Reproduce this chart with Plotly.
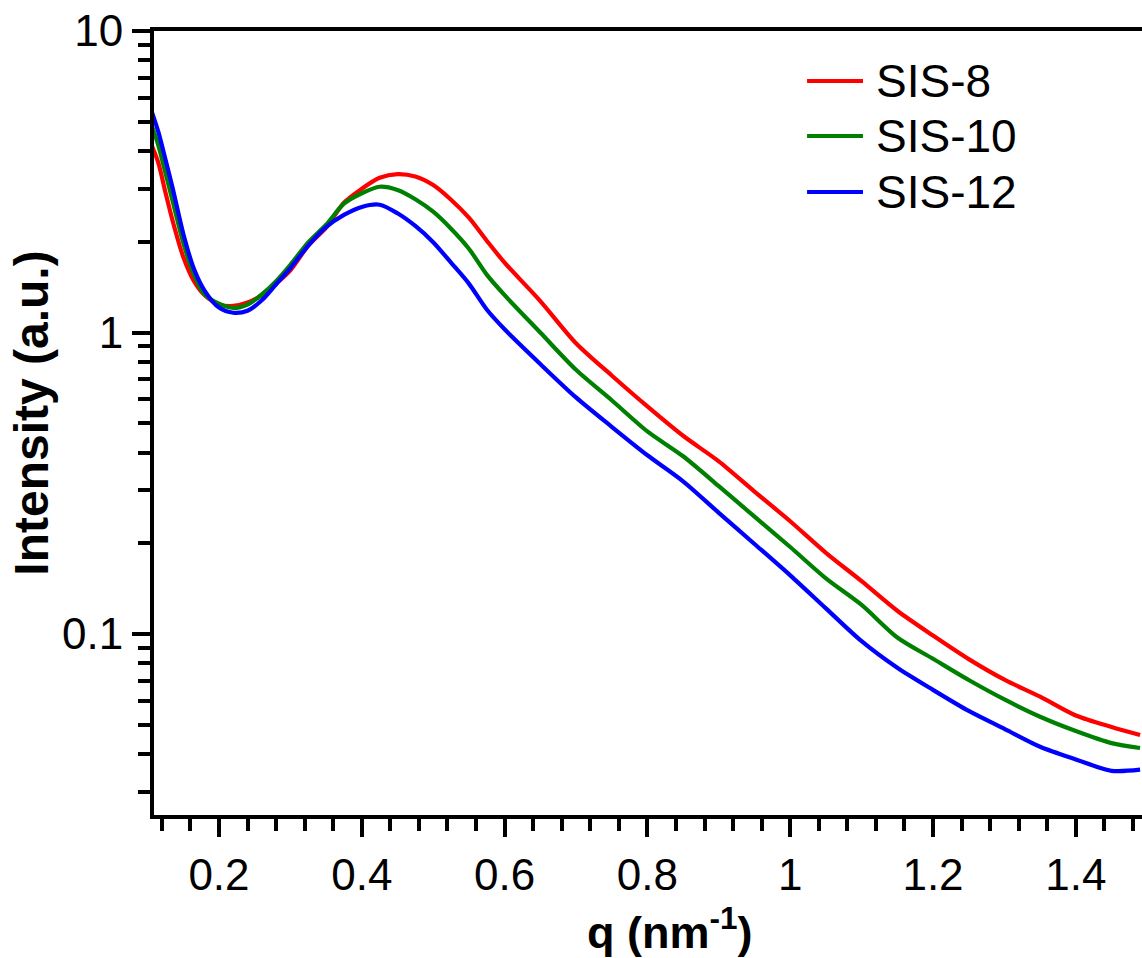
import plotly.graph_objects as go

# ---- data (q in nm^-1, intensity in a.u.) ----
q = [0.106, 0.115, 0.125, 0.135, 0.15, 0.165, 0.18, 0.2, 0.22, 0.24, 0.26, 0.28,
     0.30, 0.325, 0.35, 0.375, 0.40, 0.425, 0.45, 0.475, 0.50, 0.525, 0.55, 0.575,
     0.60, 0.65, 0.70, 0.75, 0.80, 0.85, 0.90, 0.95, 1.00, 1.05, 1.10, 1.15, 1.20,
     1.25, 1.30, 1.35, 1.40, 1.45, 1.49]

sis8 = [4.16, 3.66, 2.92, 2.35, 1.78, 1.48, 1.33, 1.24, 1.225, 1.257, 1.33, 1.453,
        1.609, 1.941, 2.227, 2.695, 2.998, 3.26, 3.354, 3.292, 3.084, 2.757, 2.403, 2.016,
        1.705, 1.272, 0.9217, 0.7205, 0.5689, 0.4546, 0.3739, 0.2968, 0.2367, 0.186, 0.1498, 0.1195, 0.0989,
        0.0826, 0.0706, 0.062, 0.0537, 0.0492, 0.0463]

sis10 = [4.846, 4.183, 3.387, 2.736, 1.986, 1.556, 1.336, 1.247, 1.207, 1.239, 1.337, 1.48,
         1.677, 1.991, 2.278, 2.674, 2.897, 3.044, 2.97, 2.768, 2.516, 2.21, 1.897, 1.556,
         1.33, 1.0, 0.7525, 0.5964, 0.4701, 0.3888, 0.3095, 0.2451, 0.1944, 0.153, 0.1249, 0.0974, 0.0828,
         0.0704, 0.0607, 0.0532, 0.0477, 0.0435, 0.0419]

sis12 = [5.393, 4.636, 3.754, 3.021, 2.127, 1.624, 1.375, 1.21, 1.163, 1.181, 1.279, 1.446,
         1.635, 1.943, 2.237, 2.455, 2.61, 2.654, 2.486, 2.256, 1.993, 1.705, 1.453, 1.192,
         1.025, 0.7863, 0.6093, 0.4869, 0.3917, 0.3211, 0.2524, 0.199, 0.1566, 0.1217, 0.0947, 0.0773, 0.0653,
         0.0556, 0.0485, 0.0423, 0.0384, 0.0352, 0.0355]

series_names = ["SIS-8", "SIS-10", "SIS-12"]
series_values = [sis8, sis10, sis12]
series_colors = ["#FF0000", "#008000", "#0000FF"]

x_tickvals = [0.2, 0.4, 0.6, 0.8, 1.0, 1.2, 1.4]
x_ticktext = ["0.2", "0.4", "0.6", "0.8", "1", "1.2", "1.4"]
y_tickvals = [0.1, 1, 10]
y_ticktext = ["0.1", "1", "10"]
y_minor = [0.03, 0.04, 0.05, 0.06, 0.07, 0.08, 0.09,
           0.2, 0.3, 0.4, 0.5, 0.6, 0.7, 0.8, 0.9,
           2, 3, 4, 5, 6, 7, 8, 9]

FONT = "Liberation Sans, Arial, Helvetica, sans-serif"

fig = go.Figure()
for name, vals, col in zip(series_names, series_values, series_colors):
    fig.add_trace(go.Scatter(x=q, y=vals, mode="lines", name=name,
                             line=dict(color=col, width=4.2, shape="spline", smoothing=0.8),
                             showlegend=False))

# manual legend (long line samples like the reference)
legend_y = [0.9362, 0.8661, 0.7946]
for name, col, ly in zip(series_names, series_colors, legend_y):
    fig.add_shape(type="line", xref="paper", yref="paper",
                  x0=0.661, x1=0.7176, y0=ly, y1=ly,
                  line=dict(color=col, width=4))
    fig.add_annotation(xref="paper", yref="paper", x=0.7288, y=ly,
                       xanchor="left", yanchor="middle", showarrow=False,
                       text=name, font=dict(family=FONT, size=46, color="black"))

# axis titles
fig.add_annotation(xref="paper", yref="paper", x=0.5218, y=-0.1455,
                   xanchor="center", yanchor="middle", showarrow=False,
                   text="<b>q (nm<sup>-1</sup>)</b>",
                   font=dict(family=FONT, size=45, color="black"))
fig.add_annotation(xref="paper", yref="paper", x=-0.1234, y=0.512,
                   xanchor="center", yanchor="middle", showarrow=False, textangle=-90,
                   text="<b>Intensity (a.u.)</b>",
                   font=dict(family=FONT, size=48, color="black"))

fig.update_layout(
    width=1142, height=958,
    margin=dict(l=154, r=0, t=31, b=143, pad=0),
    paper_bgcolor="white", plot_bgcolor="white",
    font=dict(family=FONT, size=44, color="black"),
    xaxis=dict(range=[0.109, 1.4927], showgrid=False, zeroline=False,
               showline=True, linecolor="black", linewidth=4, mirror=True,
               ticks="outside", ticklen=18, tickwidth=4, tickcolor="black",
               tickvals=x_tickvals, ticktext=x_ticktext,
               tickfont=dict(family=FONT, size=44, color="black"),
               minor=dict(ticks="outside", ticklen=12, tickwidth=4, tickcolor="black",
                          dtick=0.04, tick0=0, showgrid=False)),
    yaxis=dict(type="log", range=[-1.6, 1.0], showgrid=False, zeroline=False,
               showline=True, linecolor="black", linewidth=4, mirror=False,
               ticks="outside", ticklen=18, tickwidth=4, tickcolor="black",
               tickvals=y_tickvals, ticktext=y_ticktext,
               tickfont=dict(family=FONT, size=44, color="black"),
               minor=dict(ticks="outside", ticklen=12, tickwidth=4, tickcolor="black",
                          tickvals=y_minor, showgrid=False)),
)

fig.write_html("out.html")
